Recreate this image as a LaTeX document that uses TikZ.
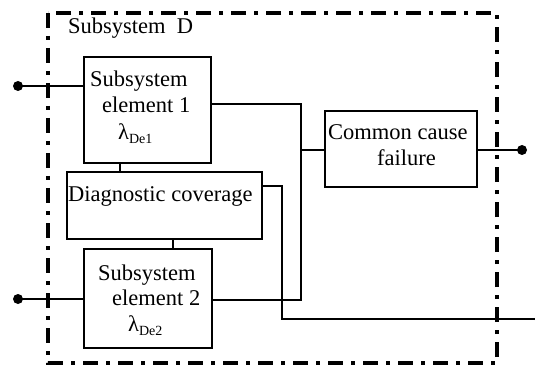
\documentclass[tikz,border=0pt]{standalone}
\usepackage{fontspec}
\setmainfont{Liberation Serif}
\newcommand{\subs}[1]{\raisebox{-4pt}{\fontsize{14}{14}\selectfont #1}}
\begin{document}
\begin{tikzpicture}[x=1pt,y=-1pt,
  blk/.style={draw,line width=1.8pt,inner sep=0pt,anchor=north west},
  txt/.style={inner sep=0pt,anchor=base west,font=\fontsize{22.5}{26}\selectfont},
  wire/.style={line width=1.6pt},
  frame/.style={line width=3.3pt,dash pattern=on 15pt off 8pt on 4pt off 8pt},
  dot/.style={circle,fill=black,inner sep=0pt,minimum size=10pt}]
\useasboundingbox (0,0) rectangle (535,366);
% frame
\draw[frame] (48,13) rectangle (497,363);
\node[txt] (title) at (68,34) {Subsystem\ \ D};
% boxes
\node[blk,minimum width=127pt,minimum height=106pt] (e1) at (83,56) {};
\node[blk,minimum width=195pt,minimum height=67pt] (dc) at (66,171) {};
\node[blk,minimum width=128pt,minimum height=99pt] (e2) at (83,248) {};
\node[blk,minimum width=152pt,minimum height=76pt] (ccf) at (324,110) {};
% texts
\node[txt] (e1a) at (90,87) {Subsystem};
\node[txt] (e1b) at (102,113) {element 1};
\node[txt] (e1c) at (118,140) {λ\subs{De1}};
\node[txt] (dct) at (68,201) {Diagnostic coverage};
\node[txt] (e2a) at (98,280) {Subsystem};
\node[txt] (e2b) at (112,305) {element 2};
\node[txt] (e2c) at (128,331) {λ\subs{De2}};
\node[txt] (ca) at (328,140) {Common cause};
\node[txt] (cb) at (377,166) {failure};
% terminals
\node[dot] (in1) at (18,86) {};
\node[dot] (in2) at (18,299) {};
\node[dot] (out1) at (522,150) {};
\node[dot] (out2) at (539.5,319) {};
\coordinate (j) at (301,150);
% wires
\draw[wire] (in1.center) -- (e1.west |- in1);
\draw[wire] (in2.center) -- (e2.west |- in2);
\draw[wire] (e1.east |- 0,104) -| (j) |- (e2.east |- 0,300);
\draw[wire] (j) -- (ccf.west |- j);
\draw[wire] (ccf.east |- out1) -- (out1.center);
\draw[wire] (dc.east |- 0,186) -| (282,319) -- (out2.center);
\draw[wire] (120,162) -- (120,171);
\draw[wire] (173,238) -- (173,248);
\end{tikzpicture}
\end{document}
